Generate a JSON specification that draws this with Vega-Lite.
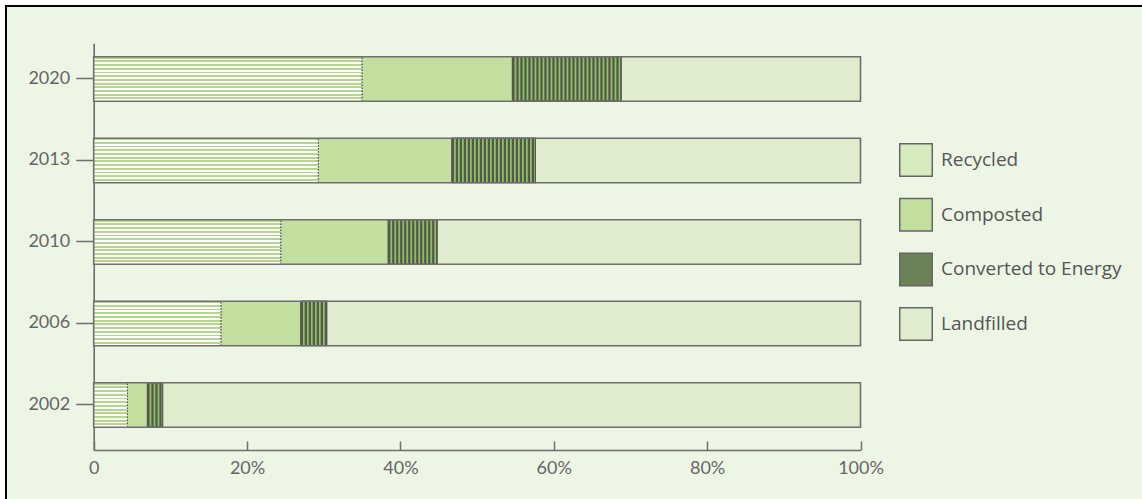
{
  "$schema": "https://vega.github.io/schema/vega-lite/v6.json",
  "width": 1136,
  "height": 493,
  "autosize": {"type": "none"},
  "padding": {"left": 6, "top": 6, "right": 0, "bottom": 0},
  "background": "#ffffff",
  "config": {
    "view": {"fill": "#edf5e5", "stroke": "#000000", "strokeWidth": 2, "strokeDash": [1136, 1629, 493]},
    "axis": {"grid": false},
    "axisX": {
      "domainColor": "#6e6e6e",
      "domainWidth": 1.6,
      "tickColor": "#6e6e6e",
      "tickWidth": 1.5,
      "tickSize": -9,
      "labelPadding": 18,
      "labelFlush": false,
      "labelFont": "Lato",
      "labelFontSize": 18,
      "labelColor": "#666666"
    }
  },
  "data": {
    "values": [
      {"year": "2020", "category": "Recycled", "share": 35.0},
      {"year": "2020", "category": "Composted", "share": 19.6},
      {"year": "2020", "category": "Converted to Energy", "share": 14.2},
      {"year": "2020", "category": "Landfilled", "share": 31.2},
      {"year": "2013", "category": "Recycled", "share": 29.3},
      {"year": "2013", "category": "Composted", "share": 17.4},
      {"year": "2013", "category": "Converted to Energy", "share": 10.9},
      {"year": "2013", "category": "Landfilled", "share": 42.4},
      {"year": "2010", "category": "Recycled", "share": 24.4},
      {"year": "2010", "category": "Composted", "share": 14.0},
      {"year": "2010", "category": "Converted to Energy", "share": 6.4},
      {"year": "2010", "category": "Landfilled", "share": 55.2},
      {"year": "2006", "category": "Recycled", "share": 16.6},
      {"year": "2006", "category": "Composted", "share": 10.4},
      {"year": "2006", "category": "Converted to Energy", "share": 3.4},
      {"year": "2006", "category": "Landfilled", "share": 69.6},
      {"year": "2002", "category": "Recycled", "share": 4.4},
      {"year": "2002", "category": "Composted", "share": 2.6},
      {"year": "2002", "category": "Converted to Energy", "share": 2.0},
      {"year": "2002", "category": "Landfilled", "share": 91.0}
    ]
  },
  "transform": [
    {"calculate": "indexof(['Recycled', 'Composted', 'Converted to Energy', 'Landfilled'], datum.category)", "as": "rank"},
    {"stack": "share", "groupby": ["year"], "sort": [{"field": "rank", "order": "ascending"}], "as": ["x0", "x1"]}
  ],
  "encoding": {
    "y": {
      "field": "year",
      "type": "nominal",
      "sort": ["2020", "2013", "2010", "2006", "2002"],
      "scale": {"type": "band", "range": [37.3, 444], "paddingInner": 0.454, "paddingOuter": 0.222, "align": 0.37},
      "axis": {
        "orient": "left",
        "offset": -87.7,
        "title": null,
        "domainColor": "#6e6e6e",
        "domainWidth": 1.6,
        "tickColor": "#6e6e6e",
        "tickWidth": 1.5,
        "tickSize": 18,
        "labelPadding": 6,
        "labelFont": "Lato",
        "labelFontSize": 18,
        "labelColor": "#666666"
      }
    }
  },
  "layer": [
    {
      "mark": {"type": "bar"},
      "encoding": {
        "x": {
          "field": "x0",
          "type": "quantitative",
          "scale": {"domain": [0, 100], "range": [87.7, 854.5], "nice": false, "zero": true},
          "axis": {"orient": "bottom", "offset": -49, "title": null, "values": [0, 20, 40, 60, 80, 100], "labelExpr": "datum.value === 0 ? '0' : datum.value + '%'"}
        },
        "x2": {"field": "x1"},
        "fill": {
          "field": "category",
          "type": "nominal",
          "scale": {
            "domain": ["Recycled", "Composted", "Converted to Energy", "Landfilled"],
            "range": ["#d6ebc0", "#c2df9f", "#6b8157", "#dfecce"]
          },
          "condition": [
            {
              "test": "datum.category === 'Recycled'",
              "value": {
                "gradient": "linear", "x1": 0, "y1": 0, "x2": 0, "y2": 1,
                "stops": [
                  {"offset": 0, "color": "#b4d78c"}, {"offset": 0.042, "color": "#b4d78c"}, {"offset": 0.042, "color": "#ffffff"}, {"offset": 0.0833, "color": "#ffffff"},
                  {"offset": 0.0833, "color": "#b4d78c"}, {"offset": 0.1253, "color": "#b4d78c"}, {"offset": 0.1253, "color": "#ffffff"}, {"offset": 0.1667, "color": "#ffffff"},
                  {"offset": 0.1667, "color": "#b4d78c"}, {"offset": 0.2087, "color": "#b4d78c"}, {"offset": 0.2087, "color": "#ffffff"}, {"offset": 0.25, "color": "#ffffff"},
                  {"offset": 0.25, "color": "#b4d78c"}, {"offset": 0.292, "color": "#b4d78c"}, {"offset": 0.292, "color": "#ffffff"}, {"offset": 0.3333, "color": "#ffffff"},
                  {"offset": 0.3333, "color": "#b4d78c"}, {"offset": 0.3753, "color": "#b4d78c"}, {"offset": 0.3753, "color": "#ffffff"}, {"offset": 0.4167, "color": "#ffffff"},
                  {"offset": 0.4167, "color": "#b4d78c"}, {"offset": 0.4587, "color": "#b4d78c"}, {"offset": 0.4587, "color": "#ffffff"}, {"offset": 0.5, "color": "#ffffff"},
                  {"offset": 0.5, "color": "#b4d78c"}, {"offset": 0.542, "color": "#b4d78c"}, {"offset": 0.542, "color": "#ffffff"}, {"offset": 0.5833, "color": "#ffffff"},
                  {"offset": 0.5833, "color": "#b4d78c"}, {"offset": 0.6253, "color": "#b4d78c"}, {"offset": 0.6253, "color": "#ffffff"}, {"offset": 0.6667, "color": "#ffffff"},
                  {"offset": 0.6667, "color": "#b4d78c"}, {"offset": 0.7087, "color": "#b4d78c"}, {"offset": 0.7087, "color": "#ffffff"}, {"offset": 0.75, "color": "#ffffff"},
                  {"offset": 0.75, "color": "#b4d78c"}, {"offset": 0.792, "color": "#b4d78c"}, {"offset": 0.792, "color": "#ffffff"}, {"offset": 0.8333, "color": "#ffffff"},
                  {"offset": 0.8333, "color": "#b4d78c"}, {"offset": 0.8753, "color": "#b4d78c"}, {"offset": 0.8753, "color": "#ffffff"}, {"offset": 0.9167, "color": "#ffffff"},
                  {"offset": 0.9167, "color": "#b4d78c"}, {"offset": 0.9587, "color": "#b4d78c"}, {"offset": 0.9587, "color": "#ffffff"}, {"offset": 1, "color": "#ffffff"}
                ]
              }
            },
            {"test": "datum.category === 'Converted to Energy'", "value": "#8dc35a"}
          ],
          "legend": {
            "orient": "none",
            "legendX": 893,
            "legendY": 137,
            "title": null,
            "padding": 0,
            "symbolType": "square",
            "symbolSize": 1056,
            "symbolStrokeColor": "#666666",
            "symbolStrokeWidth": 1.5,
            "symbolOpacity": 1,
            "labelFont": "Open Sans",
            "labelFontSize": 19,
            "labelColor": "#555555",
            "labelOffset": 8,
            "labelLimit": 400,
            "rowPadding": 14.7
          }
        }
      }
    },
    {
      "transform": [{"filter": "datum.category === 'Converted to Energy'"}],
      "mark": {"type": "rule", "strokeWidth": 44, "strokeDash": [2.2, 1.8], "strokeCap": "butt", "color": "#555555"},
      "encoding": {
        "x": {
          "field": "x0",
          "type": "quantitative",
          "scale": {"domain": [0, 100], "range": [87.7, 854.5], "nice": false, "zero": true},
          "axis": {"orient": "bottom", "offset": -49, "title": null, "values": [0, 20, 40, 60, 80, 100], "labelExpr": "datum.value === 0 ? '0' : datum.value + '%'"}
        },
        "x2": {"field": "x1"}
      }
    },
    {
      "transform": [{"filter": "datum.category === 'Converted to Energy'"}],
      "mark": {"type": "bar", "fill": null, "fillOpacity": 0, "stroke": "#555555", "strokeWidth": 1.2},
      "encoding": {
        "x": {
          "field": "x0",
          "type": "quantitative",
          "scale": {"domain": [0, 100], "range": [87.7, 854.5], "nice": false, "zero": true},
          "axis": {"orient": "bottom", "offset": -49, "title": null, "values": [0, 20, 40, 60, 80, 100], "labelExpr": "datum.value === 0 ? '0' : datum.value + '%'"}
        },
        "x2": {"field": "x1"}
      }
    },
    {
      "transform": [{"filter": "datum.category === 'Recycled'"}],
      "mark": {"type": "tick", "orient": "vertical", "filled": false, "thickness": 0, "size": 42.75, "stroke": "#444444", "strokeWidth": 1, "strokeDash": [1.5, 1.5]},
      "encoding": {
        "x": {
          "field": "x1",
          "type": "quantitative",
          "scale": {"domain": [0, 100], "range": [87.7, 854.5], "nice": false, "zero": true},
          "axis": {"orient": "bottom", "offset": -49, "title": null, "values": [0, 20, 40, 60, 80, 100], "labelExpr": "datum.value === 0 ? '0' : datum.value + '%'"}
        }
      }
    },
    {
      "transform": [{"aggregate": [{"op": "sum", "field": "share", "as": "total"}], "groupby": ["year"]}],
      "mark": {"type": "bar", "fill": null, "fillOpacity": 0, "stroke": "#6e6e6e", "strokeWidth": 1.6},
      "encoding": {
        "x": {
          "field": "total",
          "type": "quantitative",
          "scale": {"domain": [0, 100], "range": [87.7, 854.5], "nice": false, "zero": true},
          "axis": {"orient": "bottom", "offset": -49, "title": null, "values": [0, 20, 40, 60, 80, 100], "labelExpr": "datum.value === 0 ? '0' : datum.value + '%'"}
        }
      }
    }
  ]
}
